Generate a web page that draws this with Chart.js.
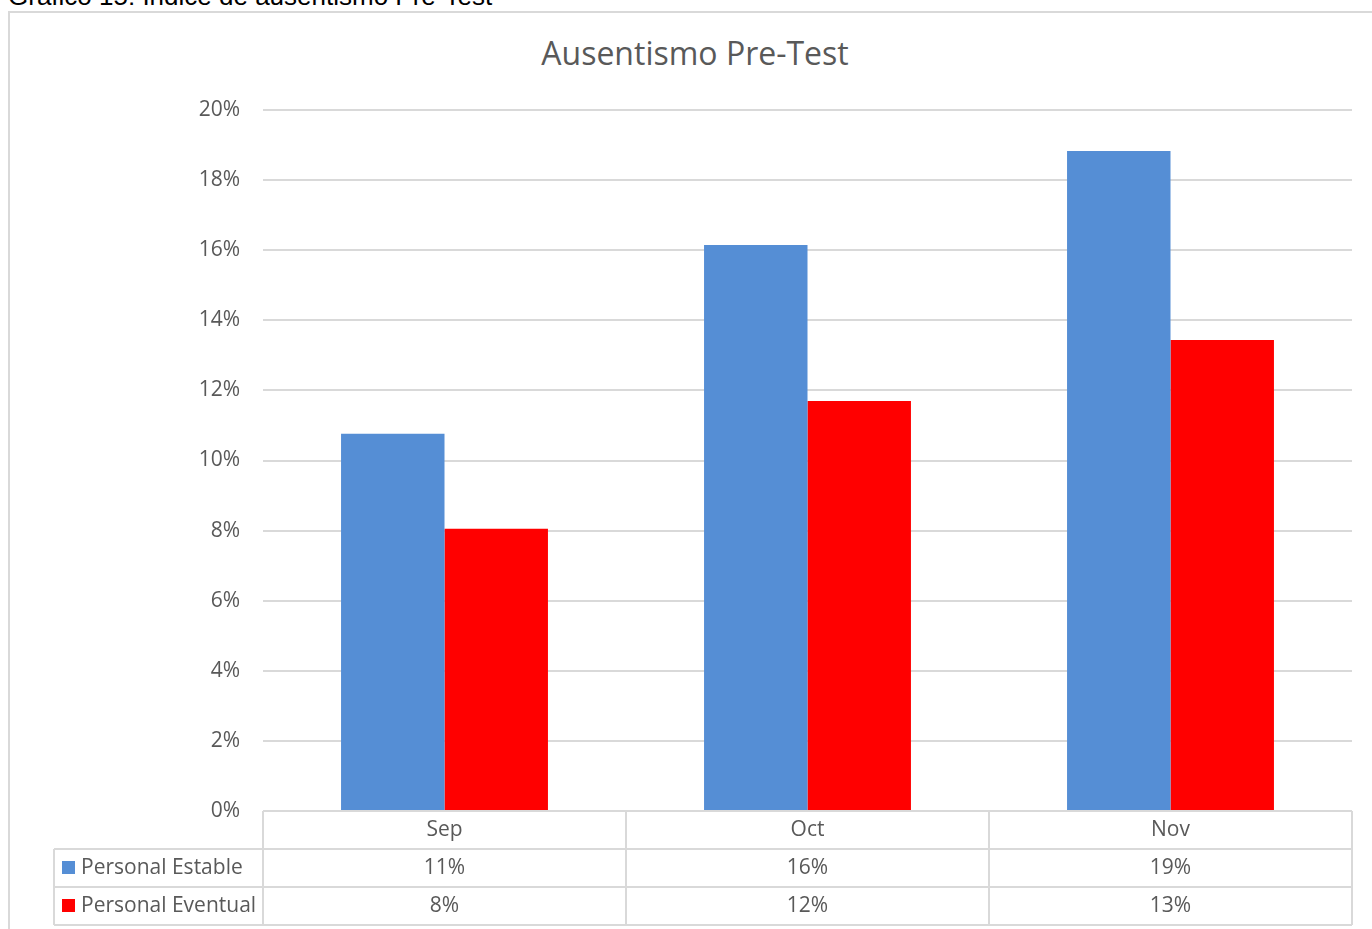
<!DOCTYPE html>
<html>
<head>
<meta charset="utf-8">
<script src="https://cdn.jsdelivr.net/npm/chart.js@4/dist/chart.umd.min.js"></script>
<style>
  html, body { margin: 0; padding: 0; background: #fff; overflow: hidden; }
  body { width: 1372px; height: 929px; position: relative; }
  #caption {
    position: absolute; left: 8px; top: -17px;
    font: 26px/26px "Liberation Sans", Arial, sans-serif; color: #000; white-space: nowrap;
  }
  #frame {
    position: absolute; left: 8px; top: 11px; width: 1390px; height: 940px;
    border: 2px solid #d9d9d9; box-sizing: border-box;
  }
  #title {
    position: absolute; left: 8px; width: 1374px; top: 33px; text-align: center;
    font: 32px/40px "Open Sans", sans-serif; color: #595959;
  }
  #wrap { position: absolute; left: 0; top: 1px; width: 1372px; height: 929px; }
</style>
</head>
<body>
<div id="caption">Gráfico 15: Índice de ausentismo Pre-Test</div>
<div id="frame"></div>
<div id="title">Ausentismo Pre-Test</div>
<div id="wrap"><canvas id="c"></canvas></div>
<script>
const months = ['Sep', 'Oct', 'Nov'];
const estable = [10.76, 16.15, 18.83];
const eventual = [8.05, 11.70, 13.44];
const seriesNames = ['Personal Estable', 'Personal Eventual'];
const seriesColors = ['#558ed5', '#ff0000'];

const FONT = '"Open Sans", sans-serif';
const GRID = '#d9d9d9';
const TXT = '#595959';

// Excel-style data table under the x axis
const dataTable = {
  id: 'dataTable',
  afterDraw(chart){
    const ctx = chart.ctx;
    const x = chart.scales.x;
    const top = chart.chartArea.bottom;
    const rowH = 38;
    const keyLeft = 54;
    const n = months.length;
    const step = (x.right - x.left) / n;
    ctx.save();
    ctx.strokeStyle = GRID;
    ctx.lineWidth = 2;
    ctx.beginPath();
    // verticals
    for(let i = 0; i <= n; i++){
      const px = Math.round(x.left + i * step);
      ctx.moveTo(px, top); ctx.lineTo(px, top + rowH * 3);
    }
    ctx.moveTo(keyLeft, top + rowH); ctx.lineTo(keyLeft, top + rowH * 3);
    // horizontals
    for(let r = 1; r <= 3; r++){
      ctx.moveTo(keyLeft, top + rowH * r); ctx.lineTo(x.right, top + rowH * r);
    }
    ctx.stroke();

    ctx.font = '21px ' + FONT;
    ctx.fillStyle = TXT;
    ctx.textBaseline = 'middle';
    ctx.textAlign = 'center';
    months.forEach((m, i) => {
      ctx.fillText(m, x.getPixelForValue(i), top + rowH * 0.5);
    });
    chart.data.datasets.forEach((ds, r) => {
      const cy = top + rowH * (r + 1.5);
      ds.data.forEach((v, i) => {
        ctx.textAlign = 'center';
        ctx.fillStyle = TXT;
        ctx.fillText(Math.round(v) + '%', x.getPixelForValue(i), cy);
      });
      ctx.fillStyle = ds.backgroundColor;
      ctx.fillRect(62, cy - 7, 13, 13);
      ctx.fillStyle = TXT;
      ctx.textAlign = 'left';
      ctx.fillText(ds.label, 81, cy);
    });
    ctx.restore();
  }
};

new Chart(document.getElementById('c'), {
  type: 'bar',
  data: {
    labels: months,
    datasets: [
      { label: seriesNames[0], data: estable, backgroundColor: seriesColors[0] },
      { label: seriesNames[1], data: eventual, backgroundColor: seriesColors[1] }
    ]
  },
  options: {
    responsive: true,
    maintainAspectRatio: false,
    animation: false,
    datasets: { bar: { categoryPercentage: 0.57, barPercentage: 1.0 } },
    layout: { padding: { top: 109, right: 20, bottom: 0, left: 0 } },
    plugins: {
      legend: { display: false },
      tooltip: { enabled: false },
      title: { display: false }
    },
    scales: {
      x: {
        grid: { display: false },
        border: { display: false },
        ticks: { display: false },
        afterFit(s){ s.height = 119; }
      },
      y: {
        min: 0, max: 20,
        ticks: {
          stepSize: 2,
          padding: 23,
          color: TXT,
          font: { family: FONT, size: 21 },
          callback: v => v + '%'
        },
        grid: { color: GRID, lineWidth: 2, drawTicks: false },
        border: { display: false },
        afterFit(s){ s.width = 263; }
      }
    }
  },
  plugins: [dataTable]
});
</script>
</body>
</html>
